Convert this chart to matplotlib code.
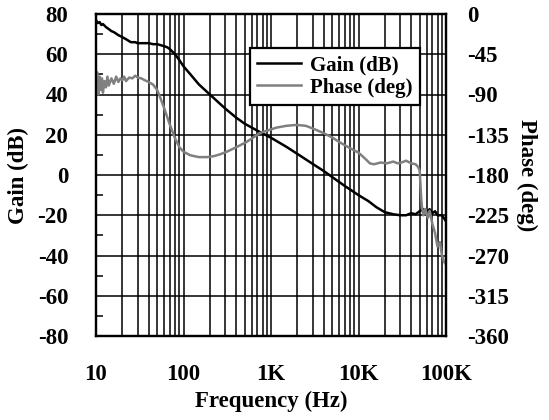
import matplotlib
matplotlib.use("Agg")
import matplotlib.pyplot as plt
from matplotlib.ticker import FixedLocator, NullFormatter, LogLocator

gain_freq = [10, 10.5, 11, 11.5, 12, 13, 14, 15, 16, 18, 20, 22, 25, 28, 30, 35, 40, 45, 50, 55,
             60, 65, 70, 80, 90, 100, 120, 150, 200, 300, 400, 500, 700, 1000, 1500, 2000, 3000,
             4000, 5000, 7000, 10000, 13000, 16000, 20000, 25000, 30000, 35000, 40000, 45000,
             50000, 55000, 60000, 65000, 70000, 75000, 80000, 90000, 100000]
gain_db = [77, 75.5, 76, 74.5, 75, 73.5, 72.5, 71.5, 71, 69.5, 68.5, 67.5, 66, 66, 65.5, 65.5, 65.5,
           65, 65, 64.5, 64, 63.5, 62.5, 60, 57, 54, 50, 45, 40, 33, 28.5, 25.5, 22, 18.5, 14, 10.5,
           5.5, 2, -1, -5.5, -10, -13, -16, -18.5, -19.5, -20, -20, -19, -19.5, -18, -17, -18.5,
           -17, -19, -18, -20, -20, -23]

phase_freq = [10, 10.3, 10.6, 11, 11.3, 11.7, 12, 12.5, 13, 13.5, 14, 15, 16, 17, 18, 19, 20, 21,
              22, 24, 26, 28, 30, 33, 36, 40, 45, 50, 55, 60, 65, 70, 80, 90, 100, 120, 150, 185,
              220, 260, 312, 400, 527, 750, 1000, 1160, 1500, 1960, 2500, 3000, 3960, 5000, 6000,
              8000, 10000, 12000, 13500, 15000, 18000, 21000, 25000, 28000, 31000, 35000, 40000,
              45000, 48000, 50000, 51000, 52000, 53000, 55000, 58000, 62000, 65000, 70000, 75000,
              80000, 85000, 90000, 95000, 100000]
phase_deg = [-85, -65, -90, -70, -85, -72, -88, -75, -82, -70, -80, -72, -78, -70, -76, -72, -74,
             -70, -75, -71, -72, -69, -71, -72, -74, -76, -79, -85, -95, -105, -115, -124, -139,
             -149, -154, -158, -160, -160, -159, -157, -154, -149, -143, -133, -129, -127, -125,
             -124, -125, -128, -133, -138, -143, -150, -155, -162, -167, -168, -166, -167, -165,
             -167, -166, -164, -167, -168, -171, -175, -190, -205, -215, -225, -218, -228, -220,
             -235, -245, -260, -255, -270, -277, -280]

x_ticks = [10, 100, 1000, 10000, 100000]
x_labels = ["10", "100", "1K", "10K", "100K"]
gain_ticks = [-80, -60, -40, -20, 0, 20, 40, 60, 80]
phase_ticks = [-360, -315, -270, -225, -180, -135, -90, -45, 0]

plt.rcParams['font.family'] = ['Liberation Serif', 'DejaVu Serif']
plt.rcParams['font.weight'] = 'bold'
plt.rcParams['axes.unicode_minus'] = False

FS = 16.5

fig = plt.figure(figsize=(5.49, 4.20), dpi=100)
ax = fig.add_axes([96/549, 1-336/420, 350/549, 322/420])
ax2 = ax.twinx()

l1, = ax.plot(gain_freq, gain_db, color='black', lw=1.8, label='Gain (dB)')
l2, = ax2.plot(phase_freq, phase_deg, color='#808080', lw=1.8, label='Phase (deg)')

ax.set_xscale('log')
ax.set_xlim(10, 100000)
ax.set_ylim(-80, 80)
ax2.set_ylim(-360, 0)

ax.set_xticks(x_ticks)
ax.set_xticklabels(x_labels)
ax.xaxis.set_minor_locator(LogLocator(base=10, subs=range(2, 10), numticks=20))
ax.xaxis.set_minor_formatter(NullFormatter())
ax.set_yticks(gain_ticks)
ax.yaxis.set_minor_locator(FixedLocator([-70, -50, -30, -10, 10, 30, 50, 70]))
ax2.set_yticks(phase_ticks)

ax.grid(True, which='major', axis='both', color='black', lw=1.1)
ax.grid(True, which='minor', axis='x', color='black', lw=1.1)

ax.tick_params(axis='x', which='both', length=0, pad=20, labelsize=FS)
ax.tick_params(axis='y', which='major', length=0, pad=20, labelsize=FS)
ax.tick_params(axis='y', which='minor', direction='in', length=5, width=1.1)
ax2.tick_params(axis='y', which='both', length=0, pad=15, labelsize=FS)

for a in (ax, ax2):
    for s in a.spines.values():
        s.set_linewidth(1.6)
        s.set_color('black')
    for lab in a.get_xticklabels() + a.get_yticklabels():
        lab.set_fontweight('bold')

ax.set_xlabel('Frequency (Hz)', fontsize=FS, fontweight='bold', labelpad=4)
ax.set_ylabel('Gain (dB)', fontsize=FS, fontweight='bold', labelpad=6)
ax2.set_ylabel('Phase (deg)', fontsize=FS, fontweight='bold', rotation=270, labelpad=20)

leg = ax2.legend(handles=[l1, l2], loc='upper right', bbox_to_anchor=(0.926, 0.894),
                 borderaxespad=0, fancybox=False, framealpha=1, edgecolor='black',
                 prop={'size': 15, 'weight': 'bold'}, handlelength=2.1, borderpad=0.35,
                 labelspacing=0.1, handletextpad=0.45)
leg.get_frame().set_linewidth(1.6)

fig.savefig('out.png', dpi=100)
